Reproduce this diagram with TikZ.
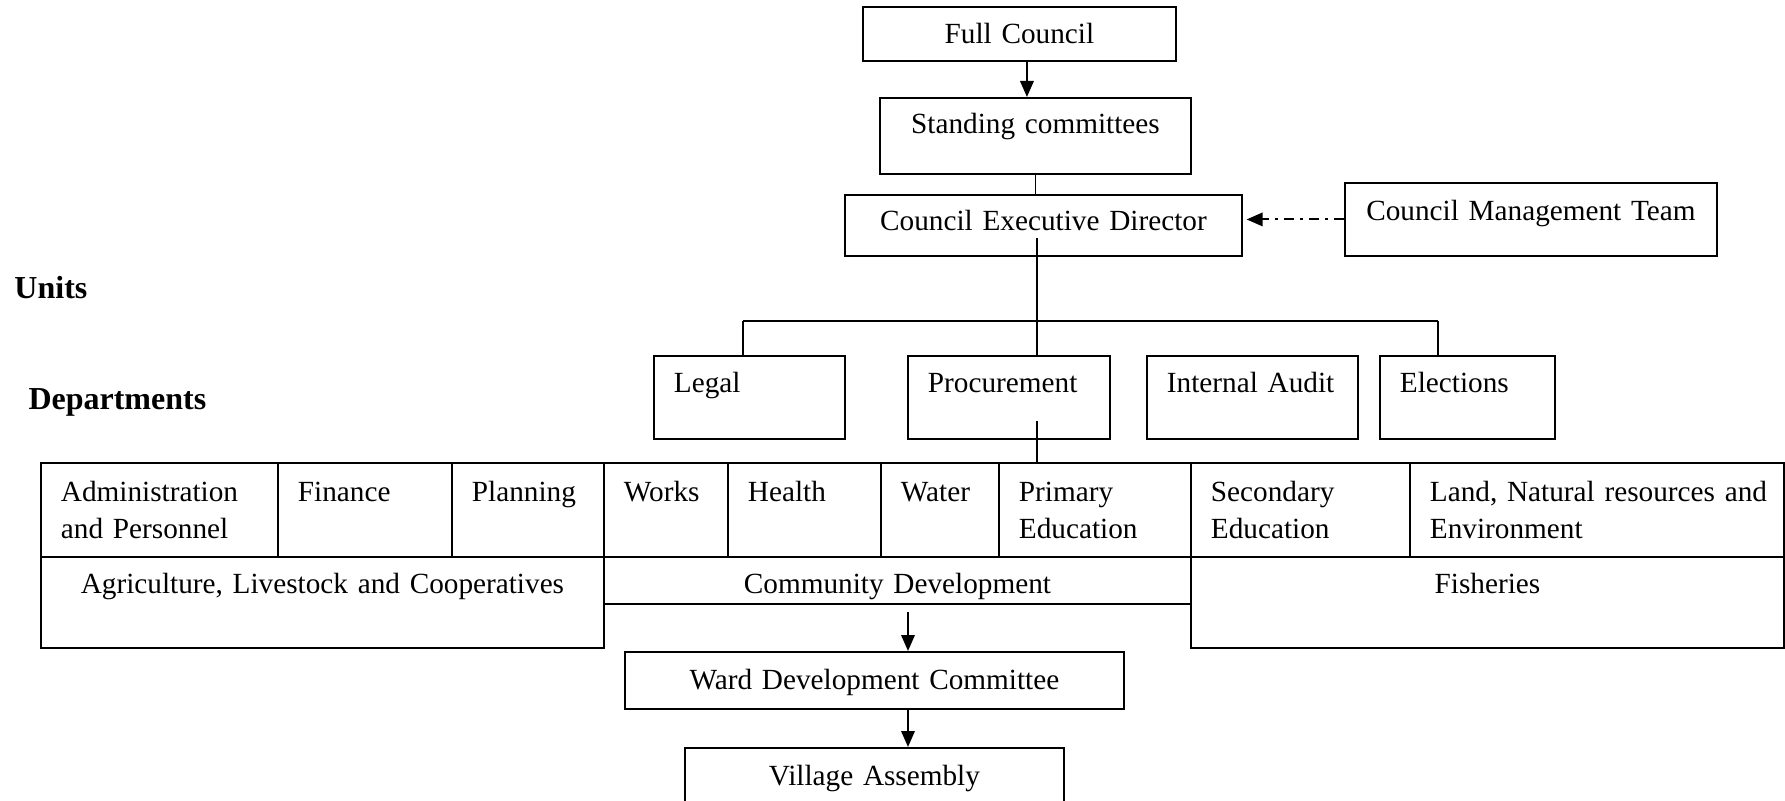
\documentclass[tikz,border=0pt]{standalone}
\usepackage{fontspec}
\setmainfont[WordSpace=0.8]{Liberation Serif}
\usepackage{tikz}
\usetikzlibrary{arrows.meta,calc}

\begin{document}
\begin{tikzpicture}[x=1pt,y=1pt,
  box/.style={draw, line width=0.75pt, rectangle, inner ysep=0pt, anchor=north west,
    font=\fontsize{11.7pt}{14.6pt}\selectfont},
  lbox/.style={box, inner xsep=8pt, align=left},
  cbox/.style={box, inner xsep=0pt, align=center},
  head/.style={anchor=base west, inner sep=0pt, font=\fontsize{12.8pt}{15pt}\selectfont\bfseries},
  link/.style={line width=0.75pt},
  arr/.style={line width=0.75pt, -{Triangle[length=6.4pt,width=5.4pt]}},
  dashdot/.style={line width=0.75pt, dash pattern=on 4pt off 2.5pt on 1pt off 2.5pt}]
\useasboundingbox (0,0) rectangle (714,-320.4);

% Council level
\node[cbox, text width=125.2pt, text height=14.6pt, text depth=7pt] (fc) at (344.8,-2.4) {Full Council};
\node[cbox, text width=124.4pt, text height=14.4pt, text depth=16pt] (sc) at (351.6,-38.8) {Standing committees};
\node[cbox, text width=158.8pt, text height=14.4pt, text depth=10pt] (ced) at (337.6,-77.6) {Council Executive Director};
\node[cbox, text width=148.8pt, text height=15.2pt, text depth=14pt] (cmt) at (537.6,-72.8) {Council Management Team};

% Side headings
\node[head] (units) at (5.6,-119.6) {Units};
\node[head] (depts) at (11.2,-164) {Departments};

% Units
\node[lbox, text width=60.4pt, text height=14.8pt, text depth=18.4pt] (legal) at (261.2,-142) {Legal};
\node[lbox, text width=64.8pt, text height=14.8pt, text depth=18.4pt] (proc) at (362.8,-142) {Procurement};
\node[lbox, text width=68.4pt, text height=14.8pt, text depth=18.4pt] (audit) at (458.4,-142) {Internal Audit};
\node[lbox, text width=54pt, text height=14.8pt, text depth=18.4pt] (elect) at (551.6,-142) {Elections};

% Departments, first row
\node[lbox, text width=78.8pt, text height=15.6pt, text depth=22pt] (admin) at (16,-184.8) {Administration\\and Personnel};
\node[lbox, text width=53.6pt, text height=15.6pt, text depth=22pt] (fin) at (110.8,-184.8) {Finance};
\node[lbox, text width=44.8pt, text height=15.6pt, text depth=22pt] (plan) at (180.4,-184.8) {Planning};
\node[lbox, text width=33.6pt, text height=15.6pt, text depth=22pt] (works) at (241.2,-184.8) {Works};
\node[lbox, text width=45.2pt, text height=15.6pt, text depth=22pt] (health) at (290.8,-184.8) {Health};
\node[lbox, text width=31.2pt, text height=15.6pt, text depth=22pt] (water) at (352,-184.8) {Water};
\node[lbox, text width=60.8pt, text height=15.6pt, text depth=22pt] (prim) at (399.2,-184.8) {Primary\\Education};
\node[lbox, text width=71.6pt, text height=15.6pt, text depth=22pt] (sec) at (476,-184.8) {Secondary\\Education};
\node[lbox, text width=133.6pt, text height=15.6pt, text depth=22pt] (land) at (563.6,-184.8) {\mbox{Land, Natural resources and}\\Environment};

% Departments, second row
\node[cbox, text width=225.2pt, text height=14.8pt, text depth=21.6pt] (agri) at (16,-222.4) {Agriculture, Livestock and Cooperatives};
\node[cbox, text width=234.8pt, text height=14.8pt, text depth=4pt] (cd) at (241.2,-222.4) {Community Development};
\node[cbox, text width=237.2pt, text height=14.8pt, text depth=21.6pt] (fish) at (476,-222.4) {Fisheries};

% Ward and village
\node[cbox, text width=199.6pt, text height=15.2pt, text depth=7.6pt] (ward) at (249.6,-260.4) {Ward Development Committee};
\node[cbox, text width=151.6pt, text height=15pt, text depth=8pt] (vill) at (273.6,-298.8) {Village Assembly};

% Connectors
\coordinate (fcx) at ($(fc.south)+(3,0)$);
\draw[arr] (fcx) -- (fcx |- sc.north);
\draw[link] (sc.south) -- (sc.south |- ced.north);
\draw[dashdot, arr, shorten >=1.5pt] (cmt.west) -- (cmt.west -| ced.east);

\coordinate (trunk) at (414.8,-95.2);
\coordinate (busL) at (297.2,-128.4);
\coordinate (busR) at (575.2,-128.4);
\draw[link] (trunk) -- (trunk |- busL);
\draw[link] (busL) -- (busR);
\draw[link] (busL) -- (busL |- legal.north);
\draw[link] (busR) -- (busR |- elect.north);
\draw[link] (trunk |- busL) -- (trunk |- proc.north);
\draw[link] (trunk |- 0,-168.4) -- (trunk |- prim.north);

\coordinate (cdx) at (363.2,-244.8);
\draw[arr] (cdx) -- (cdx |- ward.north);
\draw[arr] (cdx |- ward.south) -- (cdx |- vill.north);
\end{tikzpicture}
\end{document}
